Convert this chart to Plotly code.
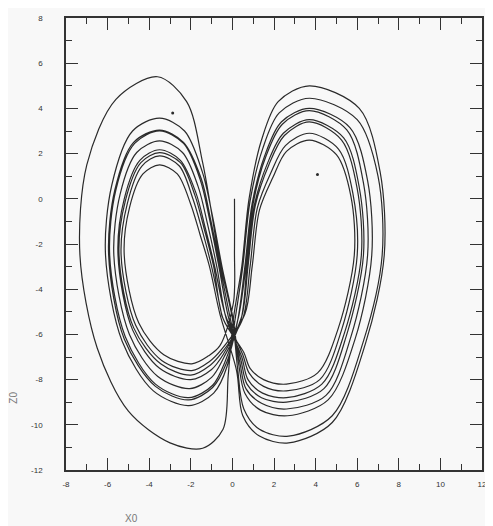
import plotly.graph_objects as go

# ---- trajectory pieces (x0, z0) ----
start_x = [0.1, 0.1, 0.05]
start_z = [0.0, -2.3, -4.6]

outer_x = [-0.2, -0.45, -1.43, -3.0, -5.0, -6.5, -7.33, -7.0, -5.6, -3.6, -2.2, -1.43, -0.6, 0.0]
outer_z = [-7.8, -10.2, -11.04, -10.8, -9.4, -6.6, -2.5, 1.5, 4.4, 5.4, 4.3, 1.6, -2.8, -5.3]

L1_x = [-0.25, -0.9, -2.1, -3.8, -5.3, -6.1, -5.8, -4.8, -3.5, -2.3, -1.45, -0.95, -0.5, 0.05]
L1_z = [-7.4, -8.6, -9.15, -8.5, -6.3, -2.5, 0.6, 3.0, 3.57, 3.0, 1.2, -0.8, -3.0, -5.4]
L2_x = [-0.3, -0.95, -2.1, -3.7, -5.2, -5.95, -5.65, -4.75, -3.5, -2.35, -1.5, -1.05, -0.6, -0.1]
L2_z = [-7.3, -8.35, -8.9, -8.3, -6.2, -2.5, 0.4, 2.5, 3.04, 2.5, 0.9, -0.9, -3.0, -5.3]
L3_x = [-0.35, -0.95, -2.1, -3.7, -5.15, -5.9, -5.6, -4.7, -3.5, -2.35, -1.55, -1.1, -0.65, -0.2]
L3_z = [-7.2, -8.25, -8.8, -8.2, -6.1, -2.5, 0.4, 2.45, 3.0, 2.45, 0.85, -0.9, -3.0, -5.2]
L4_x = [-0.4, -1.0, -2.05, -3.6, -4.95, -5.7, -5.4, -4.6, -3.5, -2.4, -1.65, -1.2, -0.75, -0.3]
L4_z = [-7.0, -7.9, -8.4, -7.85, -6.0, -2.5, 0.2, 2.05, 2.56, 2.05, 0.55, -1.1, -3.0, -5.3]
L5_x = [-0.45, -1.0, -2.0, -3.5, -4.8, -5.5, -5.2, -4.45, -3.5, -2.5, -1.75, -1.3, -0.85, -0.35]
L5_z = [-6.9, -7.55, -8.0, -7.5, -5.8, -2.5, 0.0, 1.7, 2.17, 1.7, 0.25, -1.3, -3.0, -5.1]
L6_x = [-0.5, -1.05, -2.0, -3.45, -4.75, -5.45, -5.15, -4.4, -3.5, -2.5, -1.8, -1.35, -0.9, -0.45]
L6_z = [-6.8, -7.35, -7.8, -7.3, -5.7, -2.5, -0.1, 1.6, 2.04, 1.6, 0.15, -1.35, -3.0, -5.3]
L7_x = [-0.55, -1.1, -1.95, -3.4, -4.65, -5.35, -5.05, -4.35, -3.5, -2.55, -1.9, -1.45, -1.0, -0.5]
L7_z = [-6.7, -7.2, -7.6, -7.15, -5.6, -2.5, -0.2, 1.45, 1.9, 1.45, 0.0, -1.4, -3.0, -5.2]
L8_x = [-0.6, -1.15, -1.95, -3.3, -4.5, -5.2, -4.95, -4.3, -3.5, -2.65, -2.0, -1.55, -1.1, -0.6]
L8_z = [-6.5, -6.95, -7.3, -6.9, -5.5, -2.5, -0.4, 1.1, 1.5, 1.1, -0.25, -1.6, -3.0, -5.1]

R1_x = [0.2, 0.5, 1.3, 2.7, 4.8, 6.4, 7.3, 7.1, 6.1, 3.7, 2.2, 1.4, 0.8, 0.45, 0.05]
R1_z = [-7.6, -9.6, -10.5, -10.8, -9.9, -6.4, -2.5, 1.2, 4.0, 5.0, 4.3, 2.6, 0.0, -3.0, -5.3]
R2_x = [0.25, 0.55, 1.3, 2.7, 4.8, 6.3, 7.2, 7.0, 6.0, 3.7, 2.25, 1.45, 0.85, 0.5, 0.15]
R2_z = [-7.5, -9.3, -10.2, -10.5, -9.6, -6.3, -2.5, 1.0, 3.5, 4.45, 3.8, 2.2, -0.1, -3.0, -5.2]
R3_x = [0.3, 0.6, 1.35, 2.65, 4.6, 5.9, 6.7, 6.5, 5.65, 3.7, 2.35, 1.55, 0.95, 0.6, 0.25]
R3_z = [-7.3, -8.6, -9.35, -9.6, -8.9, -6.2, -2.5, 0.8, 3.15, 4.0, 3.4, 1.9, -0.2, -3.0, -5.4]
R4_x = [0.35, 0.65, 1.4, 2.6, 4.5, 5.7, 6.5, 6.3, 5.5, 3.7, 2.4, 1.6, 1.0, 0.65, 0.3]
R4_z = [-7.2, -8.4, -9.05, -9.3, -8.7, -6.1, -2.5, 0.7, 3.05, 3.9, 3.3, 1.85, -0.2, -3.0, -5.2]
R5_x = [0.4, 0.7, 1.4, 2.6, 4.4, 5.5, 6.3, 6.1, 5.35, 3.7, 2.45, 1.7, 1.05, 0.7, 0.4]
R5_z = [-7.1, -8.2, -8.8, -9.0, -8.4, -6.0, -2.5, 0.5, 2.7, 3.5, 2.9, 1.6, -0.3, -3.0, -5.4]
R6_x = [0.45, 0.75, 1.45, 2.6, 4.3, 5.4, 6.2, 6.0, 5.25, 3.7, 2.5, 1.75, 1.1, 0.75, 0.45]
R6_z = [-7.0, -8.0, -8.6, -8.8, -8.2, -5.9, -2.5, 0.45, 2.6, 3.4, 2.8, 1.5, -0.3, -3.0, -5.2]
R7_x = [0.5, 0.8, 1.5, 2.6, 4.2, 5.25, 6.0, 5.8, 5.1, 3.7, 2.55, 1.85, 1.2, 0.85, 0.5]
R7_z = [-6.9, -7.7, -8.3, -8.5, -8.0, -5.8, -2.5, 0.2, 2.2, 2.9, 2.35, 1.15, -0.4, -3.0, -5.3]
R8_x = [0.55, 0.85, 1.5, 2.6, 4.1, 5.1, 5.86, 5.7, 5.0, 3.7, 2.6, 1.95, 1.3, 0.95, 0.6]
R8_z = [-6.8, -7.5, -8.0, -8.2, -7.7, -5.7, -2.5, 0.1, 1.95, 2.6, 2.1, 0.95, -0.5, -3.0, -5.1]

dots_x = [-2.87, 4.09]
dots_z = [3.8, 1.07]

x_ticks = [-8, -6, -4, -2, 0, 2, 4, 6, 8, 10, 12]
z_ticks = [-12, -10, -8, -6, -4, -2, 0, 2, 4, 6, 8]

# ---- assemble trajectory in order of traversal ----
pieces = [(start_x, start_z), (L8_x, L8_z), (R1_x, R1_z), (outer_x, outer_z),
          (R2_x, R2_z), (L1_x, L1_z), (R3_x, R3_z), (L2_x, L2_z),
          (R4_x, R4_z), (L3_x, L3_z), (R5_x, R5_z), (L4_x, L4_z),
          (R6_x, R6_z), (L5_x, L5_z), (R7_x, R7_z), (L6_x, L6_z),
          (R8_x, R8_z), (L7_x, L7_z)]
traj_x, traj_z = [], []
for px, pz in pieces:
    traj_x += px
    traj_z += pz

ink = "#2a2a2a"
fig = go.Figure()
fig.add_trace(go.Scatter(x=traj_x, y=traj_z, mode="lines",
                         line=dict(color=ink, width=1.2, shape="spline", smoothing=0.9),
                         hoverinfo="skip", showlegend=False))
fig.add_trace(go.Scatter(x=dots_x, y=dots_z, mode="markers",
                         marker=dict(color=ink, size=3), showlegend=False))

axis_common = dict(showgrid=False, zeroline=False, showline=True, linecolor="#333", linewidth=1.5,
                   mirror="ticks", ticks="inside", ticklen=12, tickwidth=1.3, tickcolor="#333",
                   tickfont=dict(family="Liberation Sans", size=8, color="#333"),
                   minor=dict(ticks="inside", ticklen=6, tickwidth=1.2, tickcolor="#333", dtick=1))
fig.update_xaxes(range=[-8, 12], tickvals=x_ticks, ticktext=[str(v) for v in x_ticks],
                 ticklabelstandoff=6, **axis_common)
fig.update_yaxes(range=[-12, 8], tickvals=z_ticks, ticktext=[str(v) for v in z_ticks],
                 ticklabelstandoff=20, **axis_common)

fig.add_annotation(text="X0", xref="paper", yref="paper", x=0.158, y=-0.107,
                   xanchor="center", yanchor="middle",
                   showarrow=False, font=dict(family="Liberation Sans", size=10, color="#777"))
fig.add_annotation(text="Z0", xref="paper", yref="paper", x=-0.125, y=0.16, textangle=-90,
                   xanchor="center", yanchor="middle",
                   showarrow=False, font=dict(family="Liberation Sans", size=10, color="#777"))

# page body adds an 8px offset, so the figure is sized to fit the 493x526 window
fig.update_layout(width=485, height=518, margin=dict(l=58, r=10, t=6, b=56),
                  paper_bgcolor="#f8f8f8", plot_bgcolor="#f8f8f8")
fig.write_html("out.html")
